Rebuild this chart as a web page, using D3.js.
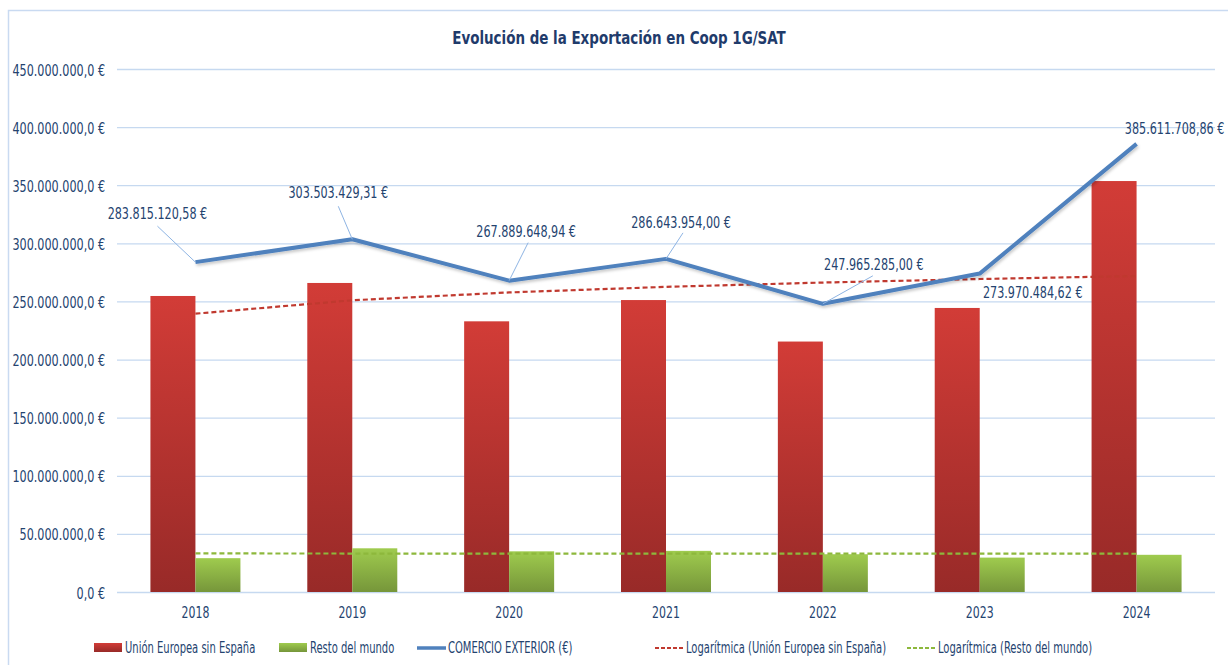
<!DOCTYPE html>
<html>
<head>
<meta charset="utf-8">
<script src="https://cdn.jsdelivr.net/npm/d3@7"></script>
<style>
  html, body { margin: 0; padding: 0; background: #ffffff; }
  svg { display: block; }
  text { font-family: "DejaVu Sans Condensed", "DejaVu Sans", sans-serif; fill: #24436f; }
</style>
</head>
<body>
<svg id="chart" width="1228" height="665"></svg>
<script>
// Export figures per year (euros)
const years = ["2018", "2019", "2020", "2021", "2022", "2023", "2024"];
const ueSinEspana = [254700000, 265900000, 232900000, 251200000, 215500000, 244400000, 353600000];
const restoMundo = [29100000, 37600000, 35000000, 35400000, 32500000, 29600000, 32000000];
const comercioExterior = [283815120.58, 303503429.31, 267889648.94, 286643954.00, 247965285.00, 273970484.62, 385611708.86];
const yTicks = [0, 50e6, 100e6, 150e6, 200e6, 250e6, 300e6, 350e6, 400e6, 450e6];

// Label placement for the total line: text offset and leader-line start, relative to each point
const labelLayout = [
  { dx: -38, dy: -43, lx: -38, ly: -36, leader: true },
  { dx: -14, dy: -41, lx: -14, ly: -33, leader: true },
  { dx: 17,  dy: -44, lx: 19,  ly: -38, leader: true },
  { dx: 15,  dy: -31, lx: 17,  ly: -26, leader: true },
  { dx: 51,  dy: -34, lx: 50,  ly: -28, leader: true },
  { dx: 53,  dy: 24,  lx: 0,   ly: 0,   leader: false },
  { dx: 38,  dy: -10, lx: 0,   ly: 0,   leader: false }
];

const svg = d3.select("#chart");
const plot = { left: 117, right: 1215, top: 69, bottom: 592 };

const x = d3.scaleBand().domain(years).range([plot.left, plot.right]);
const y = d3.scaleLinear().domain([0, 450e6]).range([plot.bottom, plot.top]);
const barW = 45;

const fmtEs = d3.formatLocale({ decimal: ",", thousands: ".", grouping: [3], currency: ["", " €"] });
const fmtAxis = v => fmtEs.format(",.1f")(v) + " €";
const fmtLabel = v => fmtEs.format(",.2f")(v) + " €";

// Narrow the text horizontally to get a compact, tall lettering
function squash(sel, k) {
  sel.each(function () {
    const w = this.getComputedTextLength();
    d3.select(this).attr("textLength", w * k).attr("lengthAdjust", "spacingAndGlyphs");
  });
}

// Gradients for the bars
const defs = svg.append("defs");
const gRed = defs.append("linearGradient").attr("id", "gradRed").attr("x1", 0).attr("y1", 0).attr("x2", 0).attr("y2", 1);
gRed.append("stop").attr("offset", "0%").attr("stop-color", "#d23c37");
gRed.append("stop").attr("offset", "100%").attr("stop-color", "#982a28");
const gGreen = defs.append("linearGradient").attr("id", "gradGreen").attr("x1", 0).attr("y1", 0).attr("x2", 0).attr("y2", 1);
gGreen.append("stop").attr("offset", "0%").attr("stop-color", "#9fcb4e");
gGreen.append("stop").attr("offset", "100%").attr("stop-color", "#76963a");
const shadow = defs.append("filter").attr("id", "lineShadow").attr("x", "-5%").attr("y", "-5%").attr("width", "110%").attr("height", "120%");
shadow.append("feDropShadow").attr("dx", 1).attr("dy", 2).attr("stdDeviation", 1.5).attr("flood-color", "#000").attr("flood-opacity", 0.22);

// Chart frame
svg.append("path")
  .attr("d", "M8.5,665 L8.5,10.5 L1228,10.5")
  .attr("fill", "none").attr("stroke", "#c9daf1").attr("stroke-width", 1.5);

// Title
svg.append("text")
  .attr("x", 619).attr("y", 44)
  .attr("text-anchor", "middle")
  .attr("font-size", 18).attr("font-weight", "bold")
  .style("fill", "#1f3b6b")
  .text("Evolución de la Exportación en Coop 1G/SAT")
  .call(squash, 0.83);

// Gridlines and y axis labels
const yAxis = d3.axisLeft(y).tickValues(yTicks).tickSize(-(plot.right - plot.left)).tickFormat(fmtAxis).tickPadding(12);
const yg = svg.append("g").attr("transform", `translate(${plot.left},0)`).call(yAxis);
yg.select(".domain").remove();
yg.selectAll(".tick line").attr("stroke", "#c6d9f0").attr("stroke-width", 1.3);
yg.selectAll(".tick text").attr("font-size", 15).attr("font-family", null).style("fill", "#24436f")
  .attr("dy", "0.4em").call(squash, 0.83);

// x axis labels
const xAxis = d3.axisBottom(x).tickSize(0).tickPadding(0);
const xg = svg.append("g").attr("transform", `translate(0,${plot.bottom})`).call(xAxis);
xg.select(".domain").remove();
xg.selectAll(".tick text").attr("font-size", 15).attr("font-family", null).style("fill", "#24436f")
  .attr("y", 26).attr("dy", 0).call(squash, 0.81);

// Bars
const cx = d => x(d) + x.bandwidth() / 2;
svg.append("g").selectAll("rect").data(years).join("rect")
  .attr("x", (d) => cx(d) - barW)
  .attr("width", barW)
  .attr("y", (d, i) => y(ueSinEspana[i]))
  .attr("height", (d, i) => y(0) - y(ueSinEspana[i]))
  .attr("fill", "url(#gradRed)");
svg.append("g").selectAll("rect").data(years).join("rect")
  .attr("x", (d) => cx(d))
  .attr("width", barW)
  .attr("y", (d, i) => y(restoMundo[i]))
  .attr("height", (d, i) => y(0) - y(restoMundo[i]))
  .attr("fill", "url(#gradGreen)");

// Logarithmic trend lines: least squares fit of value = a + b·ln(n), n = 1..7
function logFit(vals) {
  const xs = vals.map((v, i) => Math.log(i + 1));
  const mx = d3.mean(xs), my = d3.mean(vals);
  const b = d3.sum(xs, (xv, i) => (xv - mx) * (vals[i] - my)) / d3.sum(xs, xv => (xv - mx) ** 2);
  const a = my - b * mx;
  return xs.map(xv => a + b * xv);
}
const trendLine = d3.line().x((d, i) => cx(years[i])).y(d => y(d));
svg.append("path").datum(logFit(ueSinEspana))
  .attr("d", trendLine).attr("fill", "none")
  .attr("stroke", "#c0392f").attr("stroke-width", 2.2).attr("stroke-dasharray", "5,3");
svg.append("path").datum(logFit(restoMundo))
  .attr("d", trendLine).attr("fill", "none")
  .attr("stroke", "#8db83c").attr("stroke-width", 2.2).attr("stroke-dasharray", "5,3");

// Total line
const totalLine = d3.line().x((d, i) => cx(years[i])).y(d => y(d));
svg.append("path").datum(comercioExterior)
  .attr("d", totalLine).attr("fill", "none")
  .attr("stroke", "#4f81bd").attr("stroke-width", 4).attr("stroke-linejoin", "round")
  .attr("filter", "url(#lineShadow)");

// Data labels with leader lines (narrowed with a horizontal scale)
const lbl = svg.append("g");
comercioExterior.forEach((v, i) => {
  const px = cx(years[i]), py = y(v), L = labelLayout[i];
  if (L.leader) {
    lbl.append("line")
      .attr("x1", px + L.lx).attr("y1", py + L.ly)
      .attr("x2", px).attr("y2", py)
      .attr("stroke", "#8eb4e3").attr("stroke-width", 1);
  }
  lbl.append("text")
    .attr("transform", `translate(${px + L.dx},${py + L.dy}) scale(0.83,1)`)
    .attr("text-anchor", "middle").attr("font-size", 15)
    .text(fmtLabel(v));
});

// Legend
const legendY = 648;
const legend = svg.append("g");
const items = [
  { x: 94,  kind: "rect", fill: "url(#gradRed)", label: "Unión Europea sin España" },
  { x: 279, kind: "rect", fill: "url(#gradGreen)", label: "Resto del mundo" },
  { x: 417, kind: "line", stroke: "#4f81bd", dash: null, w: 3.5, label: "COMERCIO EXTERIOR (€)" },
  { x: 655, kind: "line", stroke: "#c0392f", dash: "4,2", w: 2, label: "Logarítmica (Unión Europea sin España)" },
  { x: 907, kind: "line", stroke: "#8db83c", dash: "4,2", w: 2, label: "Logarítmica (Resto del mundo)" }
];
items.forEach(it => {
  if (it.kind === "rect") {
    legend.append("rect").attr("x", it.x).attr("y", legendY - 5).attr("width", 28).attr("height", 9).attr("fill", it.fill);
  } else {
    legend.append("line").attr("x1", it.x).attr("x2", it.x + 29).attr("y1", legendY).attr("y2", legendY)
      .attr("stroke", it.stroke).attr("stroke-width", it.w).attr("stroke-dasharray", it.dash);
  }
  legend.append("text").attr("x", it.x + 31).attr("y", legendY + 5).attr("font-size", 15).text(it.label)
    .call(squash, 0.74);
});
</script>
</body>
</html>
